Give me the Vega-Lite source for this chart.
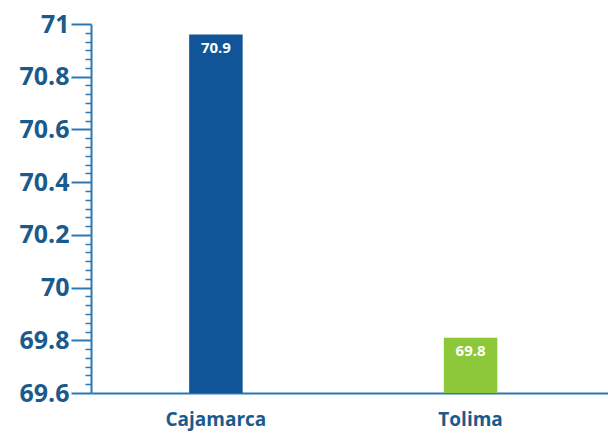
{
  "$schema": "https://vega.github.io/schema/vega-lite/v6.json",
  "width": 517,
  "height": 369,
  "padding": {"left": 91, "top": 24, "right": 0, "bottom": 40},
  "autosize": {"type": "none"},
  "background": "white",
  "config": {"view": {"stroke": null}},
  "data": {"values": [
    {"dept": "Cajamarca", "value": 70.96, "label": "70.9", "color": "blue"},
    {"dept": "Tolima", "value": 69.81, "label": "69.8", "color": "green"}
  ]},
  "encoding": {
    "x": {"field": "dept", "type": "nominal", "sort": null,
      "scale": {"paddingInner": 0.79, "paddingOuter": 0.41, "align": 0.47},
      "axis": {"title": null, "labelAngle": 0, "ticks": false, "domainColor": "#2a78b6", "domainWidth": 2,
        "labelFont": "Open Sans", "labelFontWeight": "bold", "labelFontSize": 19, "labelColor": "#1b5a8c", "labelPadding": 17}}
  },
  "layer": [
    {
      "mark": {"type": "bar", "clip": true},
      "encoding": {
        "y": {"field": "value", "type": "quantitative",
          "scale": {"domain": [69.6, 71], "zero": false, "nice": false},
          "axis": {"title": null, "values": [69.6, 69.8, 70, 70.2, 70.4, 70.6, 70.8, 71], "format": "~g", "grid": false,
            "tickSize": 20, "tickColor": "#2a78b6", "tickWidth": 2, "domainColor": "#2a78b6", "domainWidth": 2,
            "labelFont": "Open Sans", "labelFontWeight": "bold", "labelFontSize": 25, "labelColor": "#1b5a8c", "labelPadding": 2}},
        "y2": {"datum": 69.6},
        "color": {"field": "color", "type": "nominal", "scale": {"domain": ["blue", "green"], "range": ["#0f5597", "#8cc83a"]}, "legend": null}
      }
    },
    {
      "mark": {"type": "tick", "opacity": 0},
      "encoding": {
        "y": {"field": "value", "type": "quantitative",
          "scale": {"domain": [69.6, 71], "zero": false, "nice": false},
          "axis": {"title": null, "values": [69.6333, 69.6667, 69.7333, 69.7667, 69.8333, 69.8667, 69.9333, 69.9667, 70.0333, 70.0667, 70.1333, 70.1667, 70.2333, 70.2667, 70.3333, 70.3667, 70.4333, 70.4667, 70.5333, 70.5667, 70.6333, 70.6667, 70.7333, 70.7667, 70.8333, 70.8667, 70.9333, 70.9667, 69.7, 69.9, 70.1, 70.3, 70.5, 70.7, 70.9],
            "labels": false, "domain": false, "grid": false, "tickSize": 6, "tickColor": "#2a78b6", "tickWidth": 1.5, "orient": "left"}}
      }
    },
    {
      "mark": {"type": "text", "font": "Open Sans", "fontWeight": "bold", "fontSize": 15, "color": "white", "baseline": "top", "dy": 6},
      "encoding": {
        "y": {"field": "value", "type": "quantitative", "scale": {"domain": [69.6, 71], "zero": false, "nice": false}, "axis": null},
        "text": {"field": "label"}
      }
    }
  ],
  "resolve": {"scale": {"y": "independent"}, "axis": {"y": "independent"}}
}
